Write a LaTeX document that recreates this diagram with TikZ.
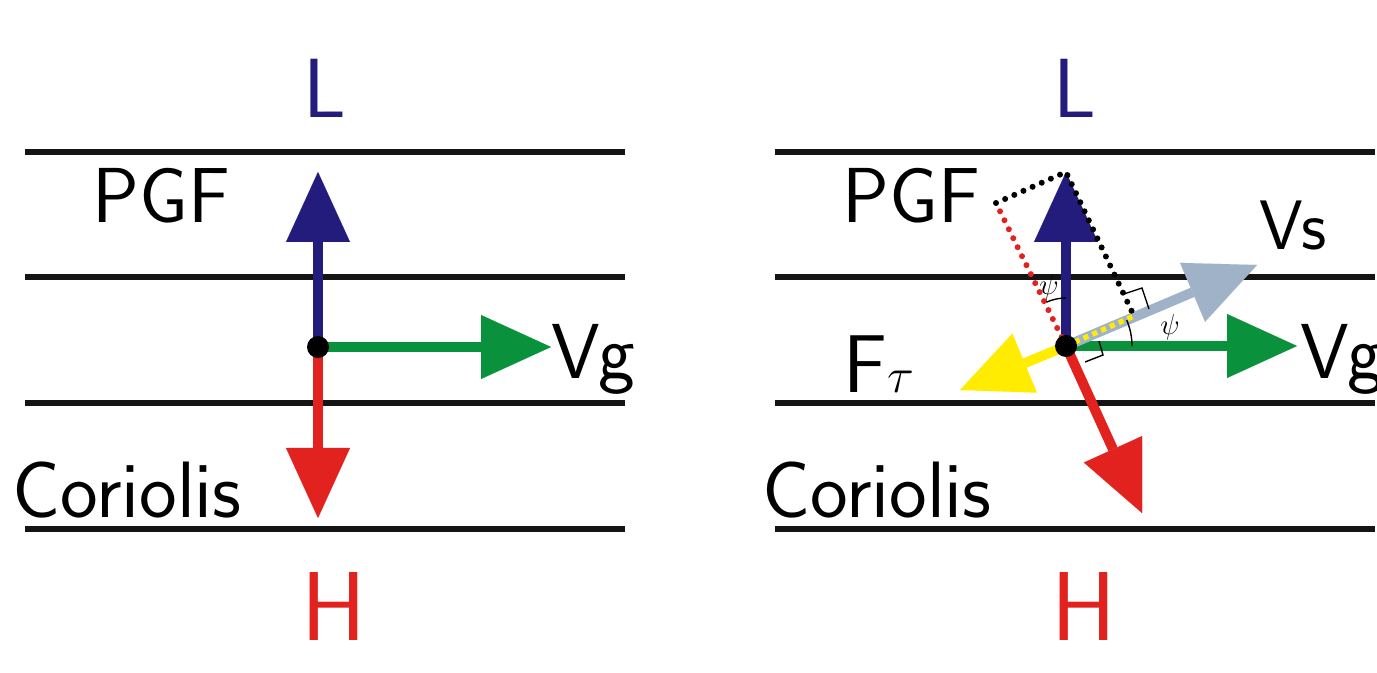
\documentclass[tikz,border=0pt]{standalone}
\usepackage{fontspec}
\usetikzlibrary{arrows.meta,calc}
\definecolor{navy}{RGB}{35,28,125}
\definecolor{cred}{RGB}{226,34,30}
\definecolor{cgreen}{RGB}{10,145,60}
\definecolor{cyellow}{RGB}{255,236,0}
\definecolor{steel}{RGB}{160,178,200}
\begin{document}
\begin{tikzpicture}[x=0.5pt,y=-0.5pt,
  isobar/.style={line width=2.6pt,black!92},
  vec/.style={line width=5pt,-{Triangle[length=35pt,width=32pt,line width=0.01pt]}},
  lbl/.style={inner sep=0pt,anchor=base west,font=\sffamily\fontsize{#1}{#1}\selectfont},
  lbl/.default=39,
  dotted line/.style={line width=3pt,line cap=round,dash pattern=on 0pt off 5pt},
  anglemark/.style={line width=0.7pt,black},
  psilabel/.style={inner sep=0pt,font=\fontsize{15}{15}\selectfont},
  origin/.style={circle,fill=black,inner sep=0pt,minimum size=11pt}]
\useasboundingbox (0,0) rectangle (1377,673);

% ---------------- left panel: geostrophic balance ----------------
\foreach \y in {152,277,403,529} \draw[isobar] (25,\y) -- (625,\y);

\coordinate (lO) at (318,347);
\coordinate (lPGF) at (318,172);
\coordinate (lCor) at (318,518);
\coordinate (lVg) at (551,347);

\draw[vec,navy] (lO) -- (lPGF);
\draw[vec,cred] (lO) -- (lCor);
\draw[vec,cgreen] (lO) -- (lVg);
\node[origin] (ldot) at (lO) {};

\node[lbl=42,text=navy] (lL) at (303,118) {L};
\node[lbl=49,text=cred] (lH) at (301,640) {H};
\node[lbl] (lpgf) at (92,223) {PGF};
\node[lbl=40] (lcor) at (12,518) {Coriolis};
\node[lbl] (lvg) at (551,379) {Vg};

% ---------------- right panel: balance with friction ----------------
\foreach \y in {152,277,403,529} \draw[isobar] (775,\y) -- (1375,\y);

\coordinate (rO) at (1066,346);
\coordinate (rPGF) at (1066,172);
\coordinate (rCor) at (1142,513);
\coordinate (rVg) at (1297,346);
\coordinate (rVs) at (1257,265);
\coordinate (rFt) at (960,390);
\coordinate (rP) at (1134,316);   % PGF component along Vs
\coordinate (rQ) at (996,203);    % PGF component across Vs

\draw[vec,cyellow] (rO) -- (rFt);
\draw[vec,cred] (rO) -- (rCor);
\draw[vec,cgreen] (rO) -- (rVg);
\draw[vec,steel] (rO) -- (rVs);
\draw[vec,navy] (rO) -- (rPGF);

% decomposition of the pressure gradient force
\draw[dotted line,cred] (rO) -- (rQ);
\draw[dotted line,black] (rQ) -- (rPGF) -- (rP);
\draw[line width=2.6pt,cyellow,dash pattern=on 2.6pt off 2.2pt] (rO) -- (rP);

% angle marks
\draw[anglemark] (rO) ++(-90:48) arc[start angle=-90,end angle=-114,radius=48];
\draw[anglemark] (rO) ++(0:66) arc[start angle=0,end angle=-23,radius=66];
\draw[anglemark] (1124,294) -- (1142,288) -- (1149,309);
\draw[anglemark] (1099,341) -- (1103,355) -- (1085,362);
\node[psilabel] (psi1) at (1049,287) {$\psi$};
\node[psilabel] (psi2) at (1170,327) {$\psi$};

\node[origin] (rdot) at (rO) {};

\node[lbl=42,text=navy] (rL) at (1053,118) {L};
\node[lbl=49,text=cred] (rH) at (1051,640) {H};
\node[lbl] (rpgf) at (842,223) {PGF};
\node[lbl=40] (rcor) at (762,518) {Coriolis};
\node[lbl] (rvg) at (1300,379) {Vg};
\node[lbl=35] (rvs) at (1259,250) {Vs};
\node[lbl=41] (rft) at (843,393) {F$\tau$};
\end{tikzpicture}
\end{document}
